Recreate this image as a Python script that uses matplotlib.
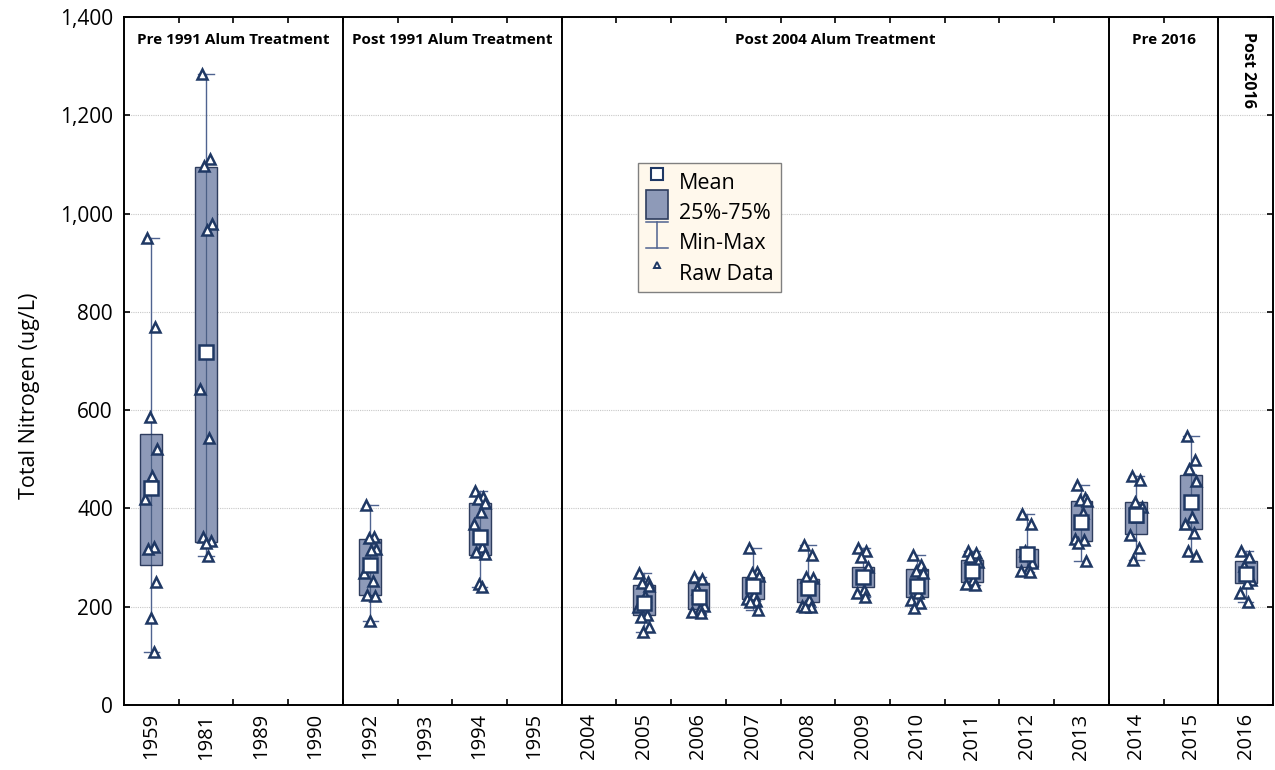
import numpy as np
import matplotlib
matplotlib.use("Agg")
import matplotlib.pyplot as plt
from matplotlib.lines import Line2D
from matplotlib.patches import Rectangle, Patch
from matplotlib.ticker import FuncFormatter, MultipleLocator

# ---- data ----
years = ["1959", "1981", "1989", "1990", "1992", "1993", "1994", "1995",
         "2004", "2005", "2006", "2007", "2008", "2009", "2010", "2011",
         "2012", "2013", "2014", "2015", "2016"]

rawData = {
    "1959": [950, 770, 587, 520, 465, 420, 322, 318, 250, 178, 108],
    "1981": [1284, 1112, 1097, 978, 966, 644, 543, 341, 333, 329, 303],
    "1992": [407, 342, 339, 318, 315, 268, 252, 223, 221, 171],
    "1994": [435, 424, 420, 412, 393, 369, 322, 312, 307, 247, 240],
    "2005": [269, 251, 249, 242, 222, 200, 183, 180, 159, 149],
    "2006": [261, 256, 237, 201, 195, 190, 188],
    "2007": [320, 271, 268, 262, 224, 215, 212, 210, 193],
    "2008": [325, 305, 261, 258, 214, 201, 200, 199],
    "2009": [320, 314, 302, 280, 234, 227, 219],
    "2010": [305, 285, 273, 268, 227, 214, 207, 197],
    "2011": [314, 310, 302, 292, 254, 247, 244],
    "2012": [388, 369, 314, 288, 275, 273, 271],
    "2013": [448, 422, 418, 416, 390, 337, 336, 330, 293],
    "2014": [466, 457, 413, 403, 383, 346, 319, 295],
    "2015": [548, 499, 481, 456, 382, 368, 351, 313, 303],
    "2016": [314, 301, 283, 255, 249, 227, 210],
}

nan = np.nan
meanValues = [442, 719, nan, nan, 284, nan, 342, nan, nan, 208, 220, 242,
              238, 261, 243, 273, 308, 373, 386, 414, 266]
q25Values = [284, 331, nan, nan, 223, nan, 306, nan, nan, 184, 195, 215,
             209, 240, 219, 251, 281, 334, 348, 359, 249]
q75Values = [552, 1095, nan, nan, 337, nan, 412, nan, nan, 245, 249, 260,
             257, 281, 276, 295, 317, 416, 414, 469, 294]

sectionLabels = ["Pre 1991 Alum Treatment", "Post 1991 Alum Treatment",
                 "Post 2004 Alum Treatment", "Pre 2016", "Post 2016"]
sectionBreaks = [3.5, 7.5, 17.5, 19.5]

# ---- style ----
navy = "#1F3864"
boxFill = "#8E9AB8"
whiskerColor = "#4F6390"
jitterPattern = [-0.08, 0.07, -0.03, 0.10, 0.02, -0.11, 0.05, -0.06, 0.09, -0.01, 0.04]

plt.rcParams["font.family"] = ["Open Sans", "DejaVu Sans"]

fig = plt.figure(figsize=(12.75, 7.7), dpi=100)
ax = fig.add_axes([124 / 1275, 1 - 705 / 770, (1273 - 124) / 1275, (705 - 17) / 770])

boxWidth = 0.4
capHalf = 0.14
for i, year in enumerate(years):
    values = rawData.get(year)
    if not values:
        continue
    lo, hi = min(values), max(values)
    # whisker
    ax.plot([i, i], [lo, hi], color=whiskerColor, lw=1.0, zorder=2)
    ax.plot([i - capHalf, i + capHalf], [lo, lo], color=whiskerColor, lw=1.0, zorder=2)
    ax.plot([i - capHalf, i + capHalf], [hi, hi], color=whiskerColor, lw=1.0, zorder=2)
    # box
    ax.add_patch(Rectangle((i - boxWidth / 2, q25Values[i]), boxWidth,
                           q75Values[i] - q25Values[i], facecolor=boxFill,
                           edgecolor="#2E3D5E", lw=1.0, zorder=3))
    ax.plot([i, i], [q25Values[i], q75Values[i]], color=navy, lw=0.9, alpha=0.6, zorder=3)
    # raw points
    xs = [i + jitterPattern[k % len(jitterPattern)] for k in range(len(values))]
    ax.plot(xs, values, linestyle="none", marker="^", markersize=7,
            markerfacecolor="white", markeredgecolor=navy, markeredgewidth=1.8, zorder=5)
    # mean
    ax.plot([i], [meanValues[i]], linestyle="none", marker="s", markersize=10,
            markerfacecolor="white", markeredgecolor=navy, markeredgewidth=1.8, zorder=6)

for xb in sectionBreaks:
    ax.axvline(xb, color="black", lw=1.4, zorder=4)

labelX = [1.5, 5.5, 12.5, 18.5]
for x, text in zip(labelX, sectionLabels[:4]):
    ax.text(x, 0.967, text, transform=ax.get_xaxis_transform(), ha="center",
            va="center", fontsize=11, fontweight="bold")
ax.text(20.05, 0.978, sectionLabels[4], transform=ax.get_xaxis_transform(),
        ha="center", va="top", rotation=270, fontsize=11.5, fontweight="bold")

ax.set_xlim(-0.5, 20.5)
ax.set_ylim(0, 1400)
ax.yaxis.set_major_locator(MultipleLocator(200))
ax.yaxis.set_major_formatter(FuncFormatter(lambda v, p: f"{int(v):,}"))
ax.set_xticks(range(len(years)))
ax.set_xticklabels(years, rotation=90, fontsize=14.5)
ax.set_xticks(np.arange(0.5, 20.5, 1), minor=True)
ax.tick_params(axis="x", which="major", length=0, pad=6)
ax.tick_params(axis="x", which="minor", direction="in", length=4, width=1.2,
               top=True, bottom=True)
ax.tick_params(axis="y", direction="in", length=4, width=1.2, left=True,
               right=True, labelsize=15, pad=8)
ax.grid(axis="y", color="#C8C8C8", linestyle=(0, (1, 1)), lw=0.8)
ax.set_axisbelow(True)
for spine in ax.spines.values():
    spine.set_linewidth(1.4)
ax.set_ylabel("Total Nitrogen (ug/L)", fontsize=15.5)
ax.yaxis.set_label_coords(-0.073, 0.45)


class SymbolHandler:
    def __init__(self, kind):
        self.kind = kind

    def legend_artist(self, legend, orig_handle, fontsize, handlebox):
        x0, y0 = handlebox.xdescent, handlebox.ydescent
        w, h = handlebox.width, handlebox.height
        cx, cy = x0 + w / 2, y0 + h / 2
        tr = handlebox.get_transform()
        artists = []
        if self.kind == "mean":
            artists.append(Line2D([cx], [cy], marker="s", markersize=9,
                                  markerfacecolor="white", markeredgecolor=navy,
                                  markeredgewidth=1.5, linestyle="none"))
        elif self.kind == "box":
            artists.append(Rectangle((cx - 8, cy - 10.5), 16, 21, facecolor=boxFill,
                                     edgecolor="#2E3D5E", lw=1.2))
        elif self.kind == "minmax":
            artists.append(Line2D([cx, cx], [cy - 9.5, cy + 9.5], color=whiskerColor, lw=1.1))
            artists.append(Line2D([cx - 8, cx + 8], [cy + 9.5, cy + 9.5], color=whiskerColor, lw=1.1))
            artists.append(Line2D([cx - 8, cx + 8], [cy - 9.5, cy - 9.5], color=whiskerColor, lw=1.1))
        else:
            artists.append(Line2D([cx], [cy], marker="^", markersize=5,
                                  markerfacecolor="white", markeredgecolor=navy,
                                  markeredgewidth=1.4, linestyle="none"))
        for a in artists:
            a.set_transform(tr)
            handlebox.add_artist(a)
        return artists[0]


legendHandles = [Patch(label="Mean"), Patch(label="25%-75%"),
                 Patch(label="Min-Max"), Patch(label="Raw Data")]
legendKinds = ["mean", "box", "minmax", "raw"]
leg = ax.legend(handles=legendHandles,
                handler_map={h: SymbolHandler(k) for h, k in zip(legendHandles, legendKinds)},
                loc="upper left", bbox_to_anchor=(0.447, 0.788), borderaxespad=0,
                fontsize=15.5, frameon=True, fancybox=False, framealpha=1,
                facecolor="#FFF8EC", edgecolor="#808080", handlelength=1.1,
                handleheight=1.2, handletextpad=0.45, labelspacing=0.33,
                borderpad=0.35)
leg.get_frame().set_linewidth(1.0)
leg.set_zorder(10)

fig.savefig("out.png", dpi=100)
